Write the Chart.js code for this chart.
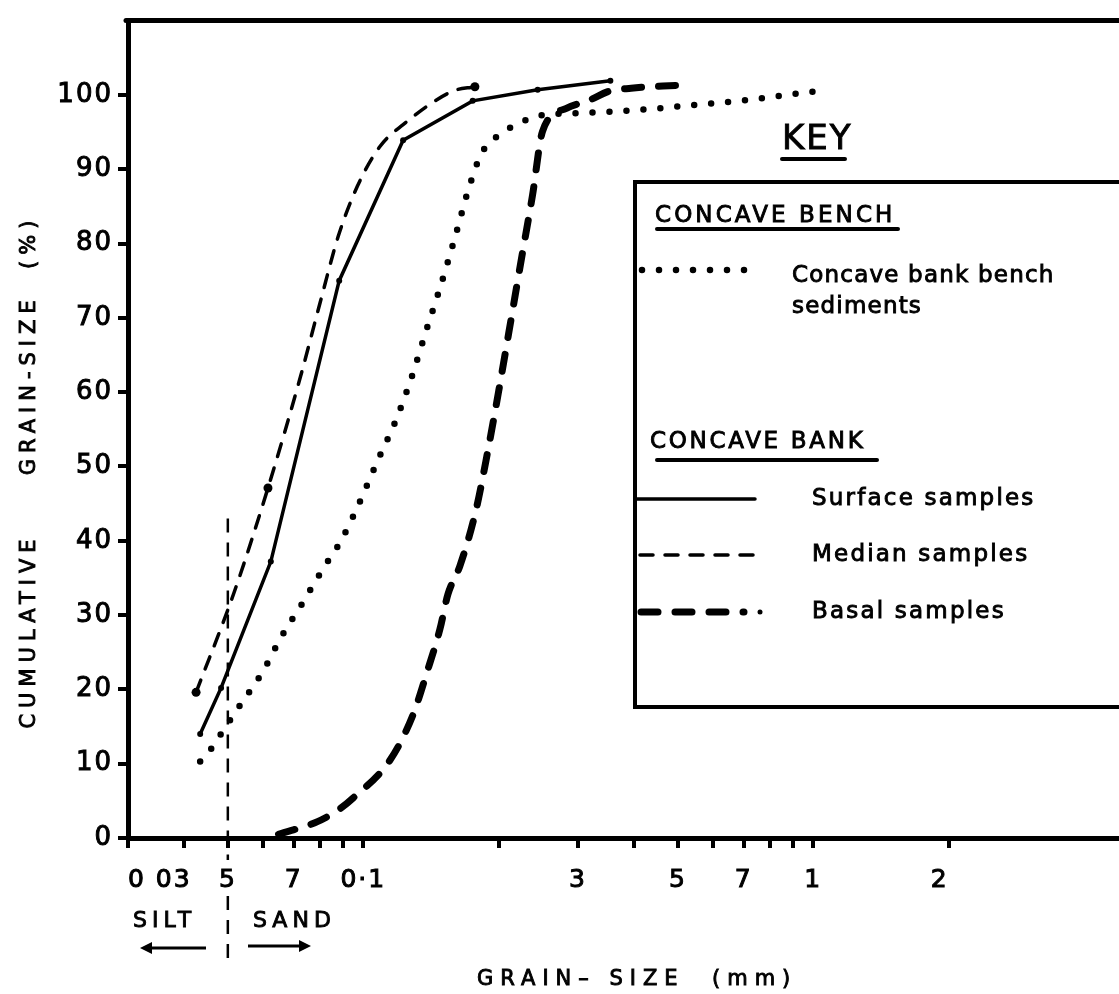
<!DOCTYPE html>
<html>
<head>
<meta charset="utf-8">
<title>Cumulative grain-size curves</title>
<script src="https://cdn.jsdelivr.net/npm/chart.js@4.4.1/dist/chart.umd.min.js"></script>
<style>
  html, body { margin: 0; padding: 0; background: #fff; overflow: hidden; }
  #wrap { width: 1140px; height: 994px; }
</style>
</head>
<body>
<div id="wrap"><canvas id="chart" width="1140" height="994"></canvas></div>
<script>
// grain size (mm), log axis
const xTicks = [0.03, 0.04, 0.05, 0.06, 0.07, 0.08, 0.09, 0.1, 0.2, 0.3, 0.4, 0.5, 0.6, 0.7, 0.8, 0.9, 1, 2];
const xTickLabels = ['0 03', '', '5', '', '7', '', '', '0·1', '', '3', '', '5', '', '7', '', '', '1', '2'];
const yTicks = [0, 10, 20, 30, 40, 50, 60, 70, 80, 90, 100];
const siltSandLimit = 0.05;

// concave bench
const benchSize = [0.0434, 0.0454, 0.0473, 0.0500, 0.0526, 0.0560, 0.0598, 0.0655, 0.0729, 0.0815, 0.0894, 0.097,
  0.108, 0.1183, 0.1277, 0.1385, 0.148, 0.1598, 0.1725, 0.1834, 0.1989, 0.2203, 0.2464, 0.318, 0.4143, 0.5427, 0.7074, 1.015];
const benchPct = [10.3, 11.6, 13.2, 15.4, 17.4, 19.8, 22.4, 26.9, 31.4, 36.3, 40.1, 44.5,
  51.0, 56.3, 61.8, 68.6, 74.0, 80.8, 87.9, 92.2, 94.5, 96.1, 97.2, 97.6, 98.0, 98.65, 99.3, 100.5];

// concave bank
const surfaceSize = [0.0434, 0.0483, 0.0623, 0.0884, 0.1226, 0.175, 0.244, 0.354];
const surfacePct = [14.0, 20.2, 37.2, 75.0, 93.9, 99.2, 100.7, 101.9];

const medianSize = [0.0425, 0.0516, 0.0614, 0.0726, 0.0803, 0.088, 0.097, 0.109, 0.1226, 0.158, 0.177];
const medianPct = [19.6, 33.0, 47.1, 62.2, 72.2, 81.0, 87.7, 93.1, 96.0, 100.5, 101.1];

const basalSize = [0.0648, 0.0791, 0.0881, 0.095, 0.1147, 0.129, 0.1385, 0.148, 0.1542, 0.1639, 0.1778, 0.189, 0.2,
  0.2104, 0.2247, 0.2377, 0.2502, 0.2827, 0.318, 0.352, 0.3937, 0.5029];
const basalPct = [0.5, 2.2, 3.8, 5.4, 10.5, 16.6, 22.3, 28.1, 32.8, 36.6, 44.0, 52.0, 60.2,
  67.9, 78.0, 86.5, 95.1, 98.2, 99.3, 100.5, 100.9, 101.3];

const FONT = '"DejaVu Sans", sans-serif';
const pts = (xs, ys) => xs.map((x, i) => ({ x, y: ys[i] }));

// filled + thin stroke, to get the heavier look of the stencilled lettering
function label(ctx, str, x, y, size, spacing, align) {
  ctx.font = size + 'px ' + FONT;
  ctx.letterSpacing = spacing + 'px';
  ctx.textAlign = align || 'left';
  ctx.textBaseline = 'middle';
  ctx.lineWidth = 0.9;
  ctx.setLineDash([]);
  ctx.fillText(str, x, y);
  ctx.strokeText(str, x, y);
}

function seg(ctx, x1, y1, x2, y2, w, dash, cap) {
  ctx.save();
  ctx.lineWidth = w;
  ctx.setLineDash(dash || []);
  ctx.lineCap = cap || 'butt';
  ctx.beginPath();
  ctx.moveTo(x1, y1);
  ctx.lineTo(x2, y2);
  ctx.stroke();
  ctx.restore();
}

function sample(ctx, ds, x1, x2, yy) {
  seg(ctx, x1, yy, x2, yy, ds.borderWidth, ds.borderDash, ds.borderCapStyle);
}

function arrow(ctx, x1, x2, yy) {
  const dir = Math.sign(x2 - x1);
  seg(ctx, x1, yy, x2 - dir * 8, yy, 3);
  ctx.beginPath();
  ctx.moveTo(x2, yy);
  ctx.lineTo(x2 - dir * 12, yy - 6);
  ctx.lineTo(x2 - dir * 12, yy + 6);
  ctx.closePath();
  ctx.fill();
}

const extras = {
  id: 'extras',
  beforeDraw(chart) {
    chart.ctx.letterSpacing = '2px';
  },
  afterDraw(chart) {
    const { ctx, chartArea: a, scales: { x, y } } = chart;
    const ds = chart.data.datasets;
    ctx.save();
    ctx.fillStyle = '#000';
    ctx.strokeStyle = '#000';

    // top of the frame
    seg(ctx, a.left - 2, a.top, a.right, a.top, 5, null, 'round');

    // silt / sand boundary
    const bx = x.getPixelForValue(siltSandLimit);
    seg(ctx, bx, y.getPixelForValue(43), bx, 860, 2.5, [14, 10]);
    seg(ctx, bx, 896, bx, 962, 2.5, [14, 10]);
    label(ctx, 'SILT', 133, 921, 22, 5);
    label(ctx, 'SAND', 253, 921, 22, 5);
    arrow(ctx, 206, 140, 948);
    arrow(ctx, 248, 311, 946);

    // axis titles
    label(ctx, 'GRAIN\u2013 SIZE  (mm)', 477, 980, 21, 7);
    ctx.save();
    ctx.translate(30, 0);
    ctx.rotate(-Math.PI / 2);
    label(ctx, 'CUMULATIVE', -631, 0, 21, 6, 'center');
    label(ctx, 'GRAIN-SIZE  (%)', -345, 0, 21, 6, 'center');
    ctx.restore();

    // key
    label(ctx, 'KEY', 782, 140, 34, 2);
    seg(ctx, 782, 159, 845, 159, 4, null, 'round');
    seg(ctx, 635, 182, 635, 707, 4);
    seg(ctx, 633, 182, a.right, 182, 4);
    seg(ctx, 633, 707, a.right, 707, 4);

    label(ctx, 'CONCAVE BENCH', 655, 216, 23, 3.1);
    seg(ctx, 657, 229, 898, 229, 4, null, 'round');
    sample(ctx, ds[0], 642, 760, 270);
    label(ctx, 'Concave bank bench', 792, 276, 23, 1.2);
    label(ctx, 'sediments', 792, 307, 23, 1.2);

    label(ctx, 'CONCAVE BANK', 650, 442, 23, 2.7);
    seg(ctx, 657, 460, 877, 460, 4, null, 'round');
    sample(ctx, ds[1], 637, 755, 499);
    label(ctx, 'Surface samples', 812, 499, 23, 2.2);
    sample(ctx, ds[2], 640, 760, 555);
    label(ctx, 'Median samples', 812, 555, 23, 2.2);
    sample(ctx, ds[3], 641, 744, 612);
    ctx.beginPath();
    ctx.arc(760, 612, 2.5, 0, Math.PI * 2);
    ctx.fill();
    label(ctx, 'Basal samples', 812, 612, 23, 2.2);
    ctx.restore();
  }
};

Chart.defaults.font.family = FONT;
Chart.defaults.color = '#000';

const medianLast = medianSize.length - 1;

new Chart(document.getElementById('chart'), {
  type: 'line',
  data: {
    datasets: [
      {
        label: 'Concave bank bench sediments',
        data: pts(benchSize, benchPct),
        borderColor: '#000',
        borderWidth: 6.5,
        borderDash: [0, 17],
        borderCapStyle: 'round',
        cubicInterpolationMode: 'monotone',
        pointRadius: 0
      },
      {
        label: 'Surface samples',
        data: pts(surfaceSize, surfacePct),
        borderColor: '#000',
        borderWidth: 3.5,
        borderCapStyle: 'round',
        tension: 0,
        pointRadius: 3,
        pointBorderWidth: 0,
        pointBackgroundColor: '#000'
      },
      {
        label: 'Median samples',
        data: pts(medianSize, medianPct),
        borderColor: '#000',
        borderWidth: 3.5,
        borderDash: [13, 12],
        borderCapStyle: 'round',
        cubicInterpolationMode: 'monotone',
        pointRadius: (c) => (c.dataIndex === 0 || c.dataIndex === 2 || c.dataIndex === medianLast ? 4.5 : 0),
        pointBorderWidth: 0,
        pointBackgroundColor: '#000'
      },
      {
        label: 'Basal samples',
        data: pts(basalSize, basalPct),
        borderColor: '#000',
        borderWidth: 7,
        borderDash: [17, 17],
        borderCapStyle: 'round',
        cubicInterpolationMode: 'monotone',
        pointRadius: 0
      }
    ]
  },
  options: {
    responsive: false,
    animation: false,
    devicePixelRatio: 1,
    layout: { padding: { top: 20, right: 0, bottom: 0, left: 0 } },
    plugins: { legend: { display: false }, tooltip: { enabled: false } },
    scales: {
      x: {
        type: 'logarithmic',
        min: 0.03,
        max: 5.2,
        bounds: 'data',
        afterBuildTicks: (s) => { s.ticks = xTicks.map((v) => ({ value: v })); },
        afterFit: (s) => { s.height = 156; },
        border: { display: true, color: '#000', width: 5 },
        grid: { drawOnChartArea: false, drawTicks: true, tickLength: 10, lineWidth: 4, color: '#000' },
        ticks: {
          autoSkip: false,
          maxRotation: 0,
          align: 'inner',
          padding: 17,
          font: { size: 25 },
          textStrokeColor: '#000',
          textStrokeWidth: 1,
          callback: (v, i) => xTickLabels[i]
        }
      },
      y: {
        min: 0,
        max: 110,
        afterBuildTicks: (s) => { s.ticks = yTicks.map((v) => ({ value: v })); },
        afterFit: (s) => { s.width = 128; },
        border: { display: true, color: '#000', width: 5 },
        grid: { drawOnChartArea: false, drawTicks: true, tickLength: 10, lineWidth: 4, color: '#000' },
        ticks: { padding: 5, font: { size: 26 }, textStrokeColor: '#000', textStrokeWidth: 1 }
      }
    }
  },
  plugins: [extras]
});
</script>
</body>
</html>
